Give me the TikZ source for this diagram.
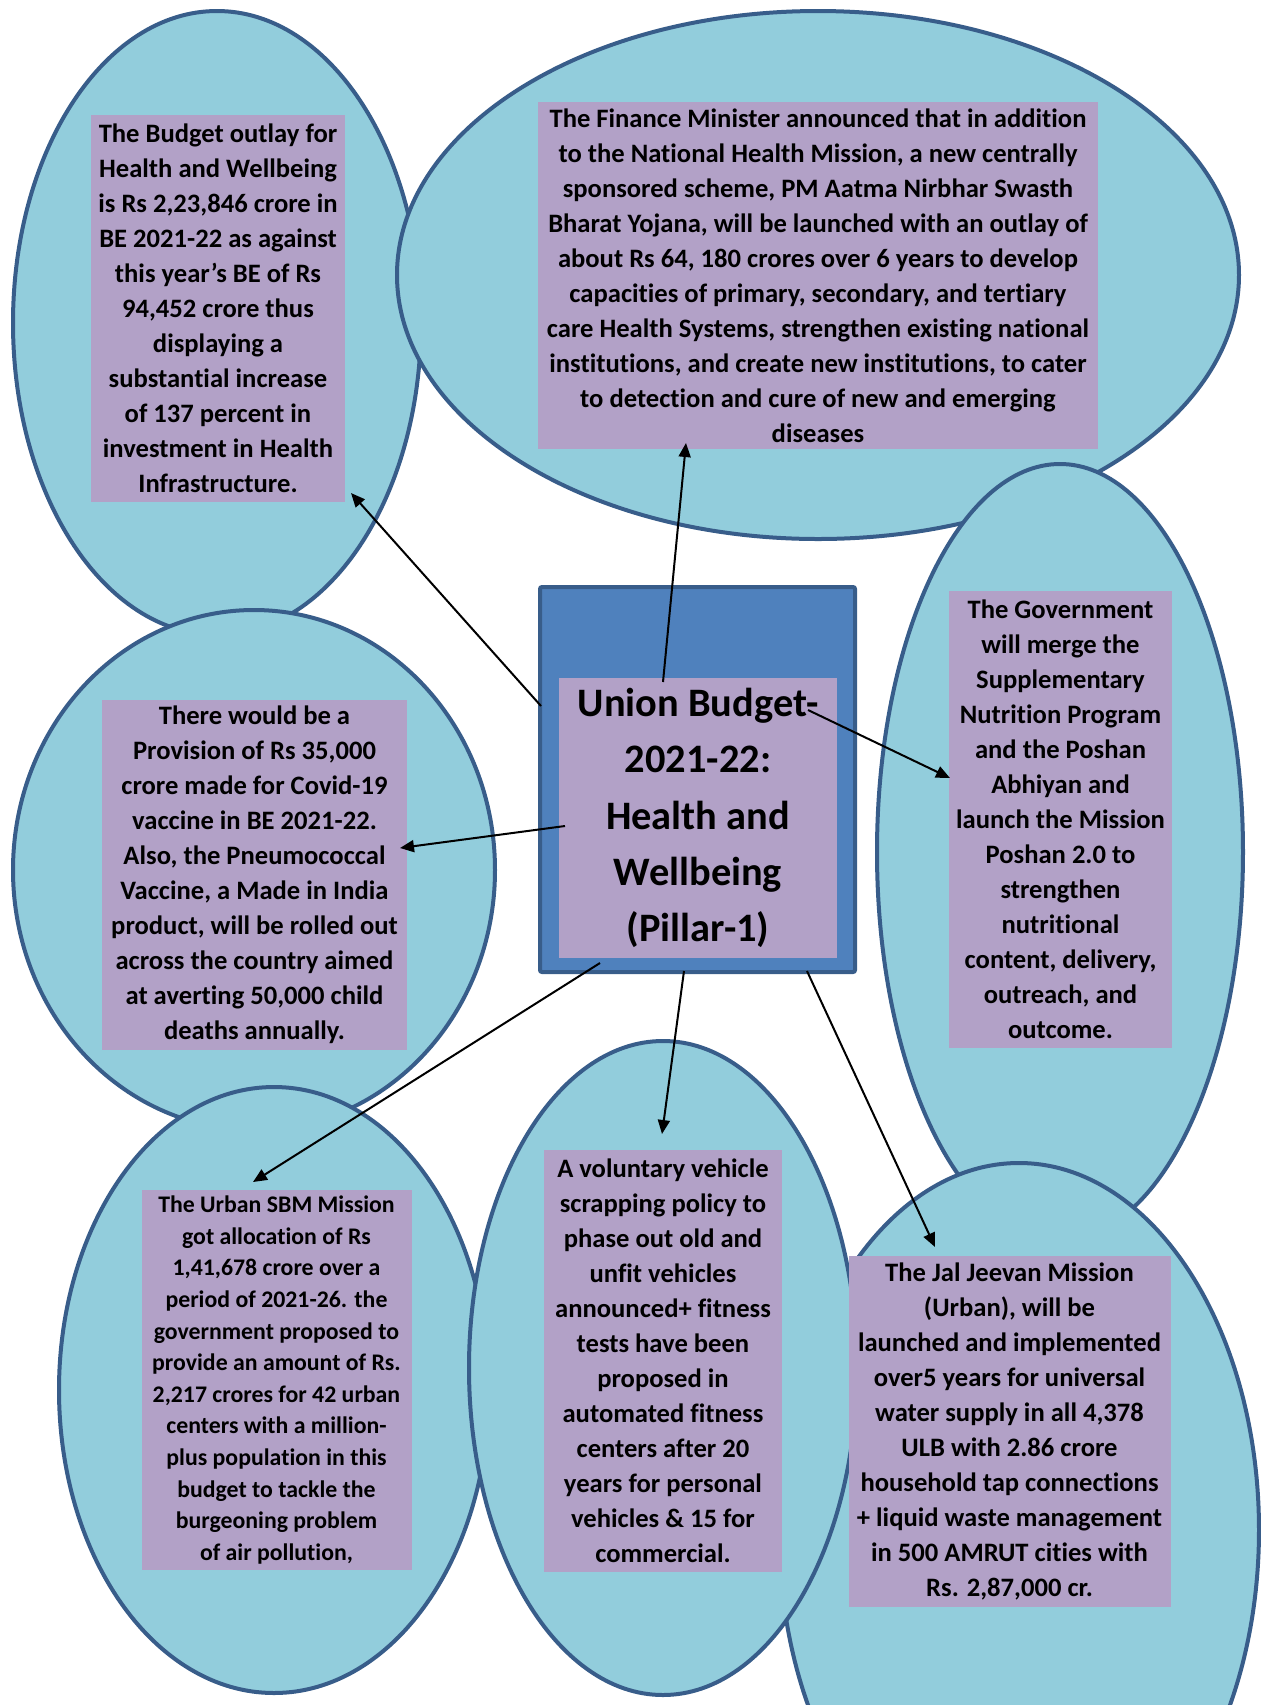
\documentclass[tikz,border=0pt]{standalone}
\usepackage{fontspec}
\setmainfont{Carlito}[Ligatures=NoCommon]
\usetikzlibrary{arrows.meta,positioning}

\definecolor{skyfill}{RGB}{146,205,220}
\definecolor{rimblue}{RGB}{56,93,138}
\definecolor{lilac}{RGB}{178,161,199}
\definecolor{midblue}{RGB}{79,129,189}

\begin{document}
\begin{tikzpicture}[x=0.5pt, y=-0.5pt,
        bubble/.style={fill=skyfill, draw=rimblue, line width=2pt},
        note/.style={fill=lilac, inner sep=0pt, align=center, font=\bfseries\fontsize{13.3}{17.5}\selectfont},
        link/.style={line width=1pt, -{Triangle[length=7pt,width=6pt]}}]
        \useasboundingbox (0,0) rectangle (1260,1705);

        % bubbles, later ones lie on top
        \filldraw[bubble] (217,323) ellipse [x radius=204, y radius=312];
        \filldraw[bubble] (818,275) ellipse [x radius=421, y radius=264];
        \filldraw[bubble] (1060,852) ellipse [x radius=183, y radius=388];
        \filldraw[bubble] (254,870) ellipse [x radius=241, y radius=260];
        \filldraw[bubble] (274,1390) ellipse [x radius=215, y radius=303];
        \filldraw[bubble] (1019,1530) ellipse [x radius=240, y radius=367];
        \filldraw[bubble] (663,1368) ellipse [x radius=194, y radius=327];

        % text boxes
        \node[note, minimum width=127pt, minimum height=193.5pt] (b1) at (218,308.5) {The Budget outlay for\\
            Health and Wellbeing\\
            is Rs 2,23,846 crore in\\
            BE 2021-22 as against\\
            this year’s BE of Rs\\
            94,452 crore thus\\
            displaying a\\
            substantial increase\\
            of 137 percent in\\
            investment in Health\\
            Infrastructure.};
        \node[note, minimum width=280pt, minimum height=173.5pt] (b2) at (818,275.5) {The Finance Minister announced that in addition\\
            to the National Health Mission, a new centrally\\
            sponsored scheme, PM Aatma Nirbhar Swasth\\
            Bharat Yojana, will be launched with an outlay of\\
            about Rs 64, 180 crores over 6 years to develop\\
            capacities of primary, secondary, and tertiary\\
            care Health Systems, strengthen existing national\\
            institutions, and create new institutions, to cater\\
            to detection and cure of new and emerging\\
            diseases};
        \node[note, minimum width=111.5pt, minimum height=228.5pt] (b3) at (1060.5,819.5) {The Government\\
            will merge the\\
            Supplementary\\
            Nutrition Program\\
            and the Poshan\\
            Abhiyan and\\
            launch the Mission\\
            Poshan 2.0 to\\
            strengthen\\
            nutritional\\
            content, delivery,\\
            outreach, and\\
            outcome.};
        \node[note, minimum width=152.5pt, minimum height=175pt] (b4) at (254.5,875) {There would be a\\
            Provision of Rs 35,000\\
            crore made for Covid-19\\
            vaccine in BE 2021-22.\\
            Also, the Pneumococcal\\
            Vaccine, a Made in India\\
            product, will be rolled out\\
            across the country aimed\\
            at averting 50,000 child\\
            deaths annually.};
        \node[note, minimum width=135pt, minimum height=190pt, font=\bfseries\fontsize{11.9}{15.8}\selectfont] (b5) at (276.5,1380) {The Urban SBM Mission\\
            got allocation of Rs\\
            1,41,678 crore over a\\
            period of 2021-26. the\\
            government proposed to\\
            provide an amount of Rs.\\
            2,217 crores for 42 urban\\
            centers with a million-\\
            plus population in this\\
            budget to tackle the\\
            burgeoning problem\\
            of air pollution,};
        \node[note, minimum width=119pt, minimum height=211pt] (b6) at (663,1360.5) {A voluntary vehicle\\
            scrapping policy to\\
            phase out old and\\
            unfit vehicles\\
            announced+ fitness\\
            tests have been\\
            proposed in\\
            automated fitness\\
            centers after 20\\
            years for personal\\
            vehicles \& 15 for\\
            commercial.};
        \node[note, minimum width=161pt, minimum height=175.5pt] (b7) at (1009.5,1431.5) {The Jal Jeevan Mission\\
            (Urban), will be\\
            launched and implemented\\
            over5 years for universal\\
            water supply in all 4,378\\
            ULB with 2.86 crore\\
            household tap connections\\
            + liquid waste management\\
            in 500 AMRUT cities with\\
            Rs. 2,87,000 cr.};

        % centre block
        \filldraw[fill=midblue, draw=rimblue, line width=2pt, rounded corners=1pt] (540,587) rectangle (855,972);
        \node[note, minimum width=139pt, minimum height=140pt, font=\bfseries\fontsize{20.2}{28.2}\selectfont] (c) at (698,818) {Union Budget-\\
            2021-22:\\
            Health and\\
            Wellbeing\\
            (Pillar-1)};

        % arrow ends
        \coordinate (s1) at (541,706);
        \coordinate (t1) at (351,493);
        \coordinate (s2) at (663,682);
        \coordinate (t2) at (686,443);
        \coordinate (s3) at (808,710);
        \coordinate (t3) at (950,778);
        \coordinate (s4) at (565,826);
        \coordinate (t4) at (400,848);
        \coordinate (s5) at (600,963);
        \coordinate (t5) at (253,1182);
        \coordinate (s6) at (684,971);
        \coordinate (t6) at (662,1134);
        \coordinate (s7) at (807,971);
        \coordinate (t7) at (935,1247);

        \draw[link] (s1) -- (t1);
        \draw[link] (s2) -- (t2);
        \draw[link] (s3) -- (t3);
        \draw[link] (s4) -- (t4);
        \draw[link] (s5) -- (t5);
        \draw[link] (s6) -- (t6);
        \draw[link] (s7) -- (t7);
\end{tikzpicture}
\end{document}
